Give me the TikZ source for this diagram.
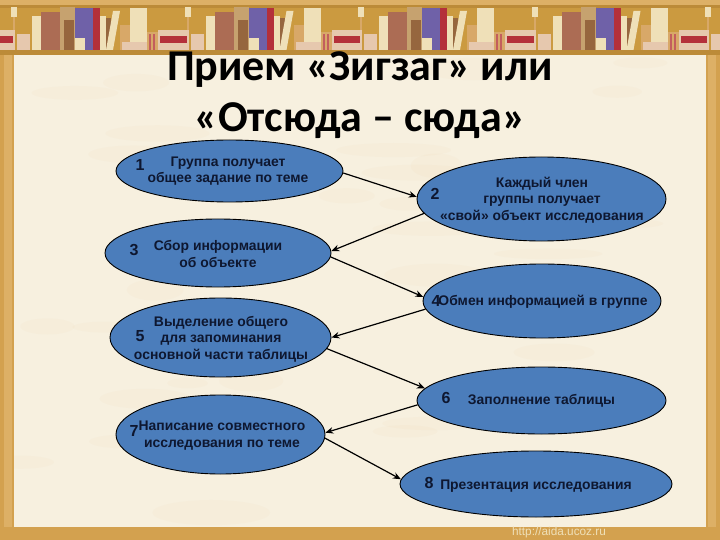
\documentclass[tikz,border=0pt]{standalone}
\usepackage{fontspec}
\setmainfont{Liberation Sans}
\newfontfamily\titlefont{Carlito}
\usetikzlibrary{arrows.meta,shapes.geometric}
\definecolor{parch}{HTML}{F7F0DF}
\definecolor{gold}{HTML}{D3A14F}
\definecolor{goldlt}{HTML}{DDB066}
\definecolor{shelfback}{HTML}{CB9A40}
\definecolor{shelfdk}{HTML}{BC8B38}
\definecolor{blob}{HTML}{4B7DBB}
\definecolor{ink}{HTML}{0E1730}
\definecolor{bcream}{HTML}{EFE0B8}
\definecolor{bbrown}{HTML}{AC6C54}
\definecolor{btan}{HTML}{C6A26F}
\definecolor{bdark}{HTML}{96663E}
\definecolor{bpurple}{HTML}{6F61A8}
\definecolor{bred}{HTML}{B4303A}
\definecolor{bpink}{HTML}{E6C8AE}
\definecolor{borange}{HTML}{D8A868}
\tikzset{
  x=1pt,y=-1pt,
  oval/.style={ellipse,draw=black,line width=0.9pt,fill=blob,inner sep=0pt},
  lbl/.style={font=\fontsize{13.9}{16.7}\selectfont\bfseries,text=ink,align=center,inner sep=0pt},
  num/.style={font=\fontsize{16}{16}\selectfont\bfseries,text=ink,inner sep=0pt},
  ttl/.style={font=\titlefont\fontsize{44}{51}\selectfont\bfseries,text=black,align=center,inner sep=0pt},
  link/.style={draw=black,line width=1.2pt,-{Stealth[length=8pt,width=6.5pt]}},
}
\begin{document}
\begin{tikzpicture}
\useasboundingbox (0,0) rectangle (720,540);
% page and frame
\fill[parch] (0,0) rectangle (720,540);
\pgfmathsetseed{11}
\foreach \i in {1,...,40}{
  \pgfmathsetmacro{\px}{20+680*rnd}
  \pgfmathsetmacro{\py}{60+460*rnd}
  \pgfmathsetmacro{\pw}{20+40*rnd}
  \pgfmathsetmacro{\ph}{5+8*rnd}
  \fill[goldlt,opacity=0.035] (\px,\py) ellipse [x radius=\pw,y radius=\ph];
}
\fill[gold] (0,55) rectangle (14,540);
\fill[goldlt] (4,55) rectangle (12,527);
\fill[gold] (706,55) rectangle (720,540);
\fill[goldlt] (708,55) rectangle (716,527);
\fill[gold] (0,527) rectangle (720,540);
% bookshelf
\fill[goldlt] (0,0) rectangle (720,5);
\fill[shelfback] (0,5) rectangle (720,51);
\fill[shelfdk] (0,5) rectangle (720,8);
\begin{scope}
\clip (0,0) rectangle (720,55);
\foreach \s in {-1,0,1,2,3,4}{
\begin{scope}[xshift=\s*173.5pt]
  \fill[bcream] (11,7) rectangle (17,17);
  \fill[borange] (13,17) rectangle (15,34);
  \fill[bcream] (32,16) rectangle (41,50);
  \fill[bbrown] (41,12) rectangle (61,50);
  \fill[btan] (60,7) rectangle (75,50);
  \fill[bdark] (64,20) rectangle (74,50);
  \fill[bpurple] (75,8) rectangle (93,50);
  \fill[bcream] (75,38) rectangle (85,50);
  \fill[bred] (93,8) rectangle (100,50);
  \fill[bcream] (100,16) rectangle (106,50);
  \fill[bdark] (106,18) rectangle (111,50);
  \fill[bcream] (113,11) -- (120,11) -- (113,50) -- (106,50) -- cycle;
  \fill[borange] (120,25) rectangle (130,50);
  \fill[bcream] (130,8) rectangle (147,45);
  \fill[bpink] (122,42) rectangle (147,50);
  \fill[borange] (147,32) rectangle (158,50);
  \fill[bred!70!bpink] (149,34) rectangle (151,50);
  \fill[bred!70!bpink] (153,34) rectangle (155,50);
  \fill[bpink] (158,30) rectangle (174,50);
  \fill[bred] (160,36) rectangle (174,43);
  \fill[bpink] (0,30) rectangle (15,50);
  \fill[bred] (0,36) rectangle (13,43);
  \fill[bpink] (17,34) rectangle (30,50);
\end{scope}
}
\end{scope}
\fill[shelfdk] (0,50) rectangle (720,55);
% title
\node[ttl] (title) at (360,95) {Прием «Зигзаг» или\\«Отсюда – сюда»};
% ovals
\node[oval,minimum width=227pt,minimum height=62pt] (o1) at (229.5,171) {};
\node[oval,minimum width=249pt,minimum height=84pt] (o2) at (541.5,199) {};
\node[oval,minimum width=226pt,minimum height=68pt] (o3) at (218,253) {};
\node[oval,minimum width=238pt,minimum height=74pt] (o4) at (542,301) {};
\node[oval,minimum width=221pt,minimum height=79pt] (o5) at (220.5,337.5) {};
\node[oval,minimum width=249pt,minimum height=67pt] (o6) at (541.5,400.5) {};
\node[oval,minimum width=209pt,minimum height=79pt] (o7) at (220.5,434.5) {};
\node[oval,minimum width=272pt,minimum height=66pt] (o8) at (536,484) {};
% labels
\node[lbl] (t1) at (228,171) {Группа получает\\общее задание по теме};
\node[num] (n1) at (140,165) {1};
\node[lbl] (t2) at (542,200) {Каждый член\\группы получает\\«свой» объект исследования};
\node[num] (n2) at (435,194) {2};
\node[lbl] (t3) at (218,254) {Сбор информации\\об объекте};
\node[num] (n3) at (134,250) {3};
\node[lbl] (t4) at (543,301.5) {Обмен информацией в группе};
\node[num] (n4) at (436,301) {4};
\node[lbl] (t5) at (221,339) {Выделение общего\\для запоминания\\основной части таблицы};
\node[num] (n5) at (140,336) {5};
\node[lbl] (t6) at (541.5,401) {Заполнение таблицы};
\node[num] (n6) at (446,398) {6};
\node[lbl] (t7) at (222,435.5) {Написание совместного\\исследования по теме};
\node[num] (n7) at (134,431) {7};
\node[lbl] (t8) at (536,486) {Презентация исследования};
\node[num] (n8) at (429,483) {8};
% connectors
\draw[link] (o1.-1.5) -- (o2.179);
\draw[link] (o2.187) -- (o3.1.5);
\draw[link] (o3.-2.5) -- (o4.178.6);
\draw[link] (o4.184) -- (o5.0);
\draw[link] (o5.-6.2) -- (o6.174.5);
\draw[link] (o6.182) -- (o7.1);
\draw[link] (o7.-2.6) -- (o8.178.3);
% footer
\node[font=\fontsize{11.8}{12}\selectfont,text=bcream,inner sep=0pt] (url) at (559,532.5) {http://aida.ucoz.ru};
\end{tikzpicture}
\end{document}
